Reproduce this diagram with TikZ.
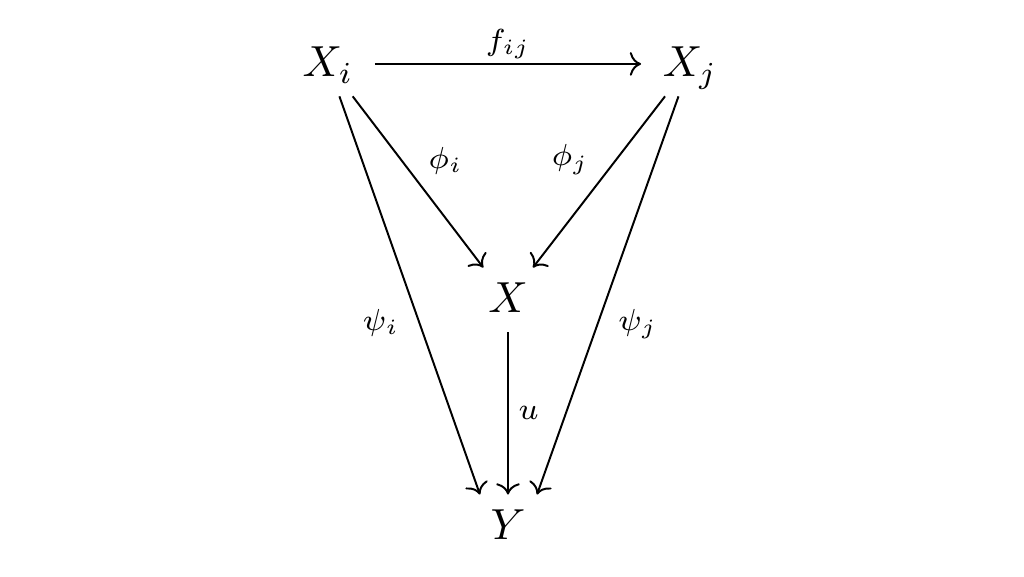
\documentclass[tikz,border=0pt]{standalone}
\usetikzlibrary{arrows.meta,calc}
\begin{document}
\begin{tikzpicture}[x=0.23pt,y=-0.23pt,
  obj/.style={anchor=base, inner xsep=4.8pt, inner ysep=2.75pt, text height=7.5pt, text depth=1.5pt},
  mor/.style={-{Computer Modern Rightarrow}, line width=0.45pt},
  lab/.style={inner sep=2.15pt}]
\fill[white] (0,0) rectangle (1024,577);
\useasboundingbox (0,0) rectangle (1024,577);
\node[obj] (Xi) at (328,77) {$X_i$};
\node[obj] (Xj) at (690,77) {$X_j$};
\node[obj] (X) at (508,313) {$X$};
\node[obj] (Y) at (508,540) {$Y$};
\draw[mor] (Xi) -- node[lab,above,inner sep=1pt] {$\scriptstyle f_{ij}$} (Xj);
\draw[mor] (Xi) -- node[lab,auto,yshift=-0.6pt] {$\scriptstyle \phi_i$} (X);
\draw[mor] (Xj) -- node[lab,auto,swap,yshift=-0.6pt] {$\scriptstyle \phi_j$} (X);
\draw[mor] (Xi) -- node[lab,auto,swap,yshift=-0.8pt] {$\scriptstyle \psi_i$} ($(Y.north)+(-28,0)$);
\draw[mor] (Xj) -- node[lab,auto,yshift=-0.8pt] {$\scriptstyle \psi_j$} ($(Y.north)+(29,0)$);
\draw[mor] (X) -- node[lab,auto] {$\scriptstyle u$} (Y);
\end{tikzpicture}
\end{document}
